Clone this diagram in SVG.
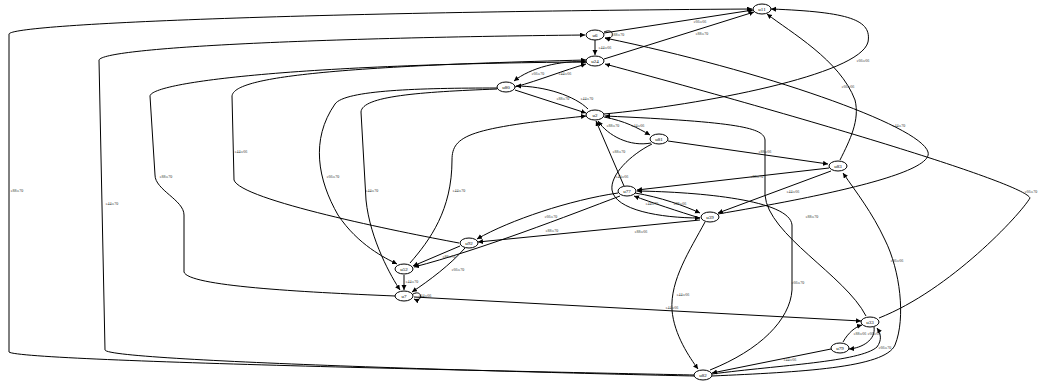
<svg xmlns="http://www.w3.org/2000/svg" width="1040" height="385" viewBox="0 0 1040 385">
<style>
.n ellipse{fill:#fff;stroke:#000;stroke-width:1}
.n text{font-family:"Liberation Serif",serif;font-size:5px;fill:#000;text-anchor:middle}
.e path{fill:none;stroke:#000;stroke-width:1;marker-end:url(#ah)}
.e text{font-family:"Liberation Serif",serif;font-size:4px;fill:#333;text-anchor:middle}
</style>
<defs>
<marker id="ah" markerUnits="userSpaceOnUse" markerWidth="6" markerHeight="6" refX="5" refY="2.5" orient="auto">
<path d="M0,0 L5,2.5 L0,5 Z" fill="#000"/>
</marker>
</defs>
<rect width="1040" height="385" fill="#fff"/>
<g id="edges" class="e">
<path d="M694,375 C600,373 20,362 9,352 L9,34 C12,24 300,12 752,9"/>
<text x="17" y="192">e88:e70</text>
<path d="M694,376 C600,374 108,362 105,350 L99,60 C104,48 300,38 585,35"/>
<text x="112" y="205">e44:e70</text>
<path d="M395,296 C300,292 188,286 184,272 L184,215 C184,200 155,190 155,175 L150,96 C152,82 300,64 586,62"/>
<text x="166" y="178">e88:e70</text>
<path d="M459,243 C400,232 240,200 234,180 L232,96 C234,80 300,67 586,60"/>
<text x="241" y="153">e44:e66</text>
<path d="M497,88 C420,88 345,90 335,104 C310,140 318,180 338,215 C358,245 385,258 397,264"/>
<text x="333" y="178">e66:e70</text>
<path d="M497,89 C420,92 362,96 361,112 L366,200 C370,240 392,278 400,290"/>
<text x="372" y="192">e44:e70</text>
<path d="M587,62 C560,60 530,68 514,81"/>
<text x="538" y="75">e66:e70</text>
<path d="M515,87 C540,80 565,70 586,64"/>
<text x="565" y="75">e44:e66</text>
<path d="M515,90 L586,113"/>
<text x="563" y="100">e88:e70</text>
<path d="M588,109 C575,96 545,86 516,86"/>
<text x="587" y="100">e44:e70</text>
<path d="M595,40 L595,55"/>
<text x="605" y="49">e44:e66</text>
<path d="M604,32 C615,27 615,41 605,38"/>
<text x="618" y="36">e88:e70</text>
<path d="M604,33 L753,10"/>
<text x="700" y="23">e66:e66</text>
<path d="M604,59 L754,12"/>
<text x="702" y="35">e88:e70</text>
<path d="M604,114 C700,105 860,75 868,42 C872,20 850,12 771,9"/>
<text x="863" y="62">e66:e66</text>
<path d="M840,160 C850,140 860,120 855,100 C840,60 790,32 767,14"/>
<text x="848" y="88">e66:e66</text>
<path d="M718,214 C800,200 935,175 928,152 C920,125 760,70 605,38"/>
<text x="899" y="127">e44:e70</text>
<path d="M879,318 C950,290 1020,215 1030,198 C1025,185 850,130 605,64"/>
<text x="1031" y="193">e66:e70</text>
<path d="M604,117 C625,121 638,128 650,135"/>
<text x="638" y="127">e44:e66</text>
<path d="M651,143 C630,147 608,136 598,121"/>
<text x="613" y="127">e88:e70</text>
<path d="M624,186 L596,121"/>
<text x="619" y="153">e88:e70</text>
<path d="M652,144 C630,155 610,175 612,190 C615,210 660,218 700,218"/>
<text x="622" y="178">e44:e66</text>
<path d="M668,141 L828,164"/>
<text x="765" y="153">e88:e66</text>
<path d="M829,168 L637,190"/>
<text x="757" y="178">e88:e70</text>
<path d="M831,171 L718,213"/>
<text x="793" y="193">e44:e66</text>
<path d="M700,218 C680,212 650,202 634,196"/>
<text x="652" y="205">e44:e70</text>
<path d="M635,193 C660,197 685,206 700,213"/>
<text x="680" y="205">e88:e66</text>
<path d="M866,316 C845,275 768,235 765,195 L765,140 C764,128 740,122 605,116"/>
<text x="812" y="218">e88:e70</text>
<path d="M710,370 C760,350 790,320 792,290 L792,225 C790,200 700,192 637,191"/>
<text x="798" y="284">e66:e70</text>
<path d="M705,222 C690,250 670,280 672,310 C674,335 690,358 698,369"/>
<text x="683" y="296">e44:e66</text>
<path d="M414,297 L861,321"/>
<text x="672" y="309">e44:e66</text>
<path d="M413,294 C423,289 423,303 414,299"/>
<text x="425" y="297">e44:e66</text>
<path d="M843,342 C848,333 855,327 862,325"/>
<text x="860" y="335">e88:e66</text>
<path d="M874,327 C876,340 862,348 849,349"/>
<text x="874" y="335">e66:e66</text>
<path d="M712,376 C800,372 885,368 895,345 C906,318 900,270 885,240 C872,212 856,192 843,173"/>
<text x="897" y="262">e66:e66</text>
<path d="M712,374 C780,365 860,362 877,347 C882,340 881,334 877,328"/>
<text x="885" y="349">e66:e70</text>
<path d="M831,349 L712,373"/>
<text x="790" y="361">e44:e66</text>
<path d="M700,220 L478,242"/>
<text x="641" y="233">e88:e66</text>
<path d="M618,193 C570,200 510,220 477,239"/>
<text x="551" y="218">e66:e70</text>
<path d="M620,196 C570,215 480,250 414,267"/>
<text x="552" y="232">e88:e70</text>
<path d="M460,246 L413,266"/>
<text x="449" y="258">e88:e70</text>
<path d="M465,248 C450,265 430,280 412,292"/>
<text x="458" y="271">e66:e70</text>
<path d="M404,275 L404,290"/>
<text x="412" y="283">e44:e70</text>
<path d="M410,263 C430,240 452,210 452,160 C452,135 470,128 586,116"/>
<text x="459" y="192">e44:e70</text>
</g>
<g id="u11" class="n"><ellipse cx="762" cy="9" rx="9" ry="5"/><text x="762" y="10.7">u11</text></g>
<g id="u6" class="n"><ellipse cx="595" cy="35" rx="9" ry="5"/><text x="595" y="36.7">u6</text></g>
<g id="u24" class="n"><ellipse cx="595" cy="61" rx="9" ry="5"/><text x="595" y="62.7">u24</text></g>
<g id="u80" class="n"><ellipse cx="506" cy="87" rx="9" ry="5"/><text x="506" y="88.7">u80</text></g>
<g id="u2" class="n"><ellipse cx="595" cy="115" rx="9" ry="5"/><text x="595" y="116.7">u2</text></g>
<g id="u81" class="n"><ellipse cx="659" cy="139" rx="9" ry="5"/><text x="659" y="140.7">u81</text></g>
<g id="u83" class="n"><ellipse cx="838" cy="166" rx="9" ry="5"/><text x="838" y="167.7">u83</text></g>
<g id="u77" class="n"><ellipse cx="627" cy="191" rx="9" ry="5"/><text x="627" y="192.7">u77</text></g>
<g id="u39" class="n"><ellipse cx="710" cy="217" rx="9" ry="5"/><text x="710" y="218.7">u39</text></g>
<g id="u92" class="n"><ellipse cx="469" cy="243" rx="9" ry="5"/><text x="469" y="244.7">u92</text></g>
<g id="u52" class="n"><ellipse cx="404" cy="269" rx="9" ry="5"/><text x="404" y="270.7">u52</text></g>
<g id="u7" class="n"><ellipse cx="404" cy="296" rx="9" ry="5"/><text x="404" y="297.7">u7</text></g>
<g id="u33" class="n"><ellipse cx="870" cy="322" rx="9" ry="5"/><text x="870" y="323.7">u33</text></g>
<g id="u79" class="n"><ellipse cx="840" cy="348" rx="9" ry="5"/><text x="840" y="349.7">u79</text></g>
<g id="u82" class="n"><ellipse cx="703" cy="375" rx="9" ry="5"/><text x="703" y="376.7">u82</text></g>
</svg>
